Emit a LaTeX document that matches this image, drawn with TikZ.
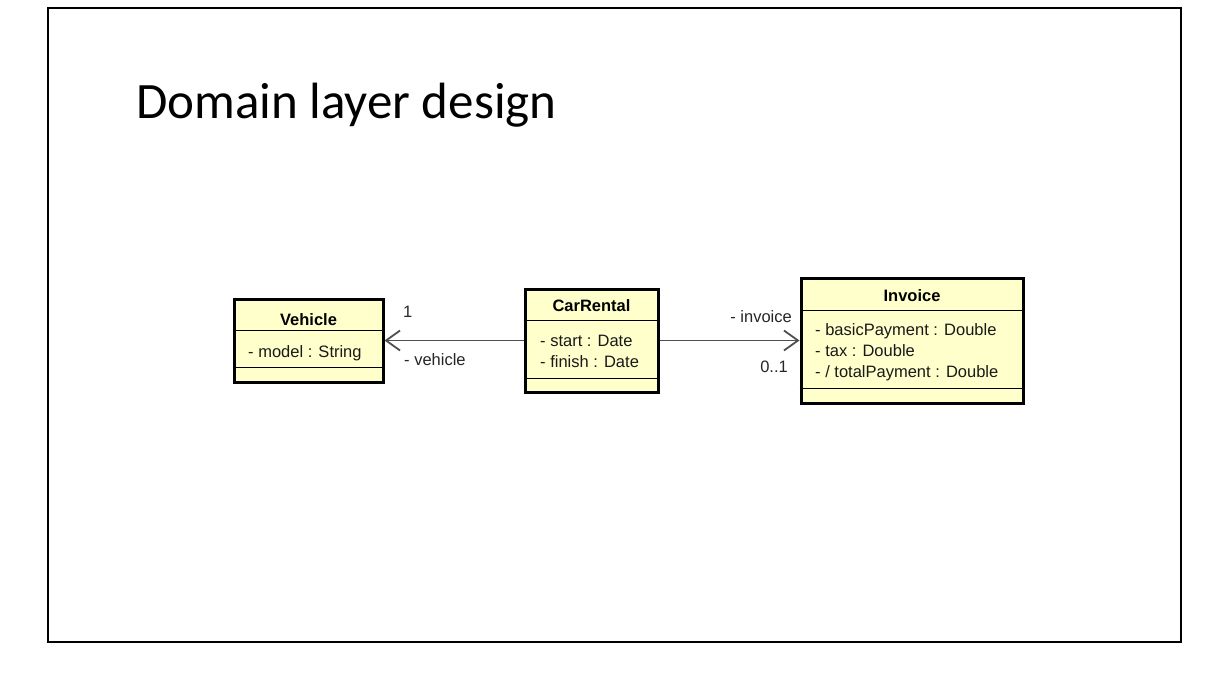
\documentclass[tikz,border=0pt]{standalone}
\usepackage{fontspec}
\setmainfont{Liberation Sans}
\newfontfamily\titlefont{Carlito}
\usepackage{tikz}
\usetikzlibrary{arrows.meta}
\pgfdeclarelayer{bglayer}
\pgfdeclarelayer{edgelayer}
\pgfdeclarelayer{nodelayer}
\pgfsetlayers{bglayer,edgelayer,nodelayer,main}
\definecolor{umlyellow}{RGB}{255,255,204}
\definecolor{linegray}{RGB}{80,80,80}
\tikzstyle{umlclass}=[rectangle, fill=umlyellow, draw=black, line width=3pt, inner sep=0pt]
\tikzstyle{divider}=[draw=black, line width=1.5pt]
\tikzstyle{classname}=[inner sep=0pt, anchor=base, font=\fontsize{16.5}{20}\selectfont\bfseries]
\tikzstyle{attr}=[inner sep=0pt, anchor=base west, font=\fontsize{16.5}{20}\selectfont, text=black!90]
\tikzstyle{role}=[inner sep=0pt, anchor=base west, font=\fontsize{16.5}{20}\selectfont, text=black!85]
\tikzstyle{assoc}=[draw=linegray, line width=1.8pt, -{Straight Barb[length=14pt,width=20pt]}]

\begin{document}
\begin{tikzpicture}[x=1pt, y=-1pt]
            \begin{pgfonlayer}{bglayer}
                \fill [white] (0, 0) rectangle (1222, 680);
            \end{pgfonlayer}
            \useasboundingbox (0, 0) rectangle (1222, 680);
            \draw [line width=2pt] (48, 8) rectangle (1181, 642);
            \node [anchor=base west, inner sep=0pt, font=\titlefont\fontsize{51}{60}\selectfont] (title) at (136, 118) {Domain layer design};
            \begin{pgfonlayer}{nodelayer}
                \node [style=umlclass, minimum width=149pt, minimum height=83pt] (Vehicle) at (308.5, 340.5) {};
                \node [style=umlclass, minimum width=133pt, minimum height=103pt] (CarRental) at (591.5, 340.5) {};
                \node [style=umlclass, minimum width=222pt, minimum height=125pt] (Invoice) at (912, 340.5) {};
            \end{pgfonlayer}
            % compartments
            \draw [style=divider] ([yshift=-33pt]Vehicle.north west) -- ([yshift=-33pt]Vehicle.north east);
            \draw [style=divider] ([yshift=16pt]Vehicle.south west) -- ([yshift=16pt]Vehicle.south east);
            \draw [style=divider] ([yshift=-33pt]CarRental.north west) -- ([yshift=-33pt]CarRental.north east);
            \draw [style=divider] ([yshift=15pt]CarRental.south west) -- ([yshift=15pt]CarRental.south east);
            \draw [style=divider] ([yshift=-34pt]Invoice.north west) -- ([yshift=-34pt]Invoice.north east);
            \draw [style=divider] ([yshift=16pt]Invoice.south west) -- ([yshift=16pt]Invoice.south east);
            % names and attributes
            \node [style=classname] (VehicleName) at (308.5, 325) {Vehicle};
            \node [style=attr] (model) at (248, 357) {- model : String};
            \node [style=classname] (CarRentalName) at (591.5, 311) {CarRental};
            \node [style=attr] (start) at (540, 346) {- start : Date};
            \node [style=attr] (finish) at (540, 367) {- finish : Date};
            \node [style=classname] (InvoiceName) at (912, 301) {Invoice};
            \node [style=attr] (basic) at (815, 335) {- basicPayment : Double};
            \node [style=attr] (tax) at (815, 356) {- tax : Double};
            \node [style=attr] (total) at (815, 377) {- / totalPayment : Double};
            % association ends
            \node [style=role] (one) at (403, 317) {1};
            \node [style=role] (vehicleRole) at (404, 365) {- vehicle};
            \node [style=role, anchor=base east] (invoiceRole) at (792, 322) {- invoice};
            \node [style=role, anchor=base east] (zeroOne) at (788, 372) {0..1};
            \begin{pgfonlayer}{edgelayer}
                \draw [style=assoc] (CarRental) to (Vehicle);
                \draw [style=assoc] (CarRental) to (Invoice);
            \end{pgfonlayer}
        \end{tikzpicture}
\end{document}
